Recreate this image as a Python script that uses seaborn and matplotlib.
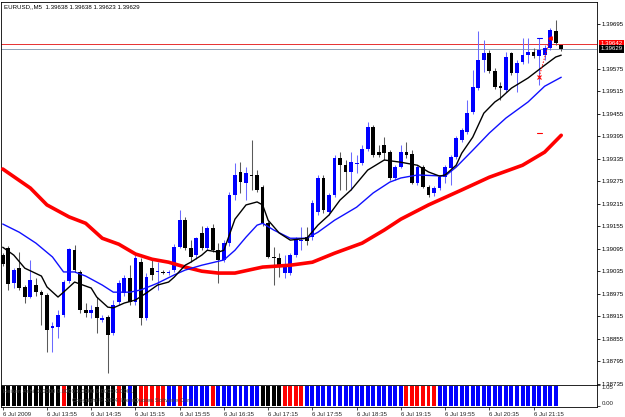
import numpy as np
import pandas as pd
import matplotlib
matplotlib.use('Agg')
import matplotlib.pyplot as plt
import matplotlib.transforms as mtrans
import seaborn as sns

# EURUSD M5, 6 Jul 2009, bars from 13:15 to 21:40
opens = [1.39078, 1.39097, 1.39003, 1.39043, 1.38993, 1.38966, 1.38998, 1.38979, 1.38971, 1.38883,
         1.38886, 1.38918, 1.39009, 1.39091, 1.39033, 1.38931, 1.38923, 1.38939, 1.38904, 1.38912,
         1.38870, 1.38953, 1.38977, 1.39017, 1.38953, 1.39059, 1.38910, 1.39043, 1.39033, 1.39033,
         1.39030, 1.39038, 1.39099, 1.39171, 1.39097, 1.39078, 1.39137, 1.39097, 1.39150, 1.39091,
         1.39065, 1.39110, 1.39238, 1.39300, 1.39270, 1.39292, 1.39292, 1.39260, 1.39163, 1.39073,
         1.39070, 1.39030, 1.39030, 1.39078, 1.39115, 1.39126, 1.39126, 1.39193, 1.39284, 1.39193,
         1.39238, 1.39337, 1.39318, 1.39300, 1.39321, 1.39324, 1.39361, 1.39420, 1.39353, 1.39372,
         1.39353, 1.39284, 1.39313, 1.39353, 1.39348, 1.39270, 1.39313, 1.39260, 1.39244, 1.39257,
         1.39286, 1.39310, 1.39340, 1.39385, 1.39406, 1.39460, 1.39524, 1.39599, 1.39617, 1.39569,
         1.39529, 1.39519, 1.39617, 1.39564, 1.39593, 1.39612, 1.39620, 1.39609, 1.39612, 1.39631,
         1.39676, 1.39638]
highs = [1.39083, 1.39102, 1.39043, 1.39086, 1.38998, 1.39065, 1.39017, 1.38985, 1.38977, 1.38899,
         1.38931, 1.39011, 1.39097, 1.39105, 1.39038, 1.38950, 1.38945, 1.38966, 1.38918, 1.38918,
         1.38958, 1.39011, 1.39025, 1.39051, 1.39078, 1.39070, 1.39030, 1.39070, 1.39059, 1.39038,
         1.39038, 1.39107, 1.39198, 1.39180, 1.39118, 1.39126, 1.39155, 1.39155, 1.39161, 1.39110,
         1.39118, 1.39246, 1.39324, 1.39326, 1.39313, 1.39385, 1.39305, 1.39265, 1.39169, 1.39099,
         1.39083, 1.39078, 1.39083, 1.39126, 1.39153, 1.39153, 1.39225, 1.39292, 1.39292, 1.39244,
         1.39345, 1.39353, 1.39332, 1.39353, 1.39345, 1.39372, 1.39433, 1.39425, 1.39372, 1.39393,
         1.39358, 1.39318, 1.39372, 1.39380, 1.39358, 1.39318, 1.39318, 1.39265, 1.39262, 1.39292,
         1.39318, 1.39345, 1.39396, 1.39417, 1.39492, 1.39572, 1.39676, 1.39652, 1.39625, 1.39577,
         1.39540, 1.39620, 1.39620, 1.39599, 1.39657, 1.39657, 1.39631, 1.39657, 1.39639, 1.39684,
         1.39706, 1.39638]
lows = [1.39049, 1.38985, 1.38990, 1.38985, 1.38950, 1.38963, 1.38969, 1.38891, 1.38819, 1.38819,
        1.38856, 1.38912, 1.39003, 1.39033, 1.38923, 1.38912, 1.38910, 1.38870, 1.38899, 1.38763,
        1.38864, 1.38945, 1.38969, 1.38945, 1.38945, 1.38891, 1.38904, 1.39011, 1.38985, 1.39027,
        1.39025, 1.39033, 1.39097, 1.39091, 1.39059, 1.39067, 1.39091, 1.39091, 1.39086, 1.39003,
        1.39059, 1.39102, 1.39225, 1.39244, 1.39225, 1.39252, 1.39246, 1.39155, 1.39070, 1.38998,
        1.39019, 1.39017, 1.39025, 1.39073, 1.39091, 1.39105, 1.39118, 1.39185, 1.39190, 1.39185,
        1.39233, 1.39252, 1.39252, 1.39252, 1.39297, 1.39318, 1.39356, 1.39340, 1.39340, 1.39332,
        1.39278, 1.39278, 1.39310, 1.39337, 1.39268, 1.39265, 1.39257, 1.39233, 1.39236, 1.39252,
        1.39270, 1.39265, 1.39334, 1.39380, 1.39401, 1.39455, 1.39519, 1.39567, 1.39564, 1.39521,
        1.39492, 1.39513, 1.39559, 1.39513, 1.39588, 1.39591, 1.39604, 1.39532, 1.39599, 1.39625,
        1.39639, 1.39623]
closes = [1.39054, 1.39001, 1.39038, 1.38990, 1.38966, 1.39011, 1.38979, 1.38971, 1.38878, 1.38889,
          1.38918, 1.39006, 1.39094, 1.39038, 1.38931, 1.38923, 1.38931, 1.38910, 1.38910, 1.38864,
          1.38945, 1.39003, 1.39017, 1.38953, 1.39070, 1.38910, 1.39019, 1.39025, 1.39035, 1.39030,
          1.39033, 1.39099, 1.39171, 1.39097, 1.39073, 1.39123, 1.39097, 1.39150, 1.39091, 1.39065,
          1.39110, 1.39238, 1.39292, 1.39273, 1.39297, 1.39289, 1.39252, 1.39163, 1.39073, 1.39070,
          1.39051, 1.39051, 1.39078, 1.39118, 1.39118, 1.39115, 1.39217, 1.39284, 1.39198, 1.39238,
          1.39337, 1.39318, 1.39300, 1.39326, 1.39324, 1.39361, 1.39420, 1.39345, 1.39345, 1.39350,
          1.39284, 1.39313, 1.39353, 1.39345, 1.39270, 1.39313, 1.39260, 1.39238, 1.39257, 1.39286,
          1.39313, 1.39340, 1.39390, 1.39412, 1.39457, 1.39527, 1.39599, 1.39617, 1.39569, 1.39527,
          1.39524, 1.39607, 1.39564, 1.39591, 1.39612, 1.39620, 1.39609, 1.39625, 1.39631, 1.39679,
          1.39644, 1.39629]

# moving averages (bar index, price)
slow_ma_bars = [0, 5, 8, 12, 15, 18, 21, 24, 27, 30, 33, 36, 39, 42, 47, 52, 56, 60, 65, 69,
                72, 77, 83, 88, 94, 98, 101]
slow_ma = [1.39308, 1.39257, 1.39212, 1.39180, 1.39163, 1.39123, 1.39107, 1.39081, 1.39067, 1.39059,
           1.39046, 1.39035, 1.39030, 1.39030, 1.39046, 1.39051, 1.39059, 1.39083, 1.39110, 1.39145,
           1.39174, 1.39212, 1.39252, 1.39286, 1.39318, 1.39353, 1.39398]
mid_ma_bars = [0, 3, 6, 9, 11, 13, 15, 18, 20, 23, 25, 28, 31, 33, 36, 40, 42, 44, 46, 47,
               49, 52, 55, 57, 60, 64, 67, 70, 72, 75, 80, 82, 85, 88, 91, 95, 98, 101]
mid_ma = [1.39161, 1.39139, 1.39110, 1.39073, 1.39033, 1.39033, 1.39022, 1.38998, 1.38979, 1.38979,
          1.38985, 1.39003, 1.39025, 1.39038, 1.39051, 1.39065, 1.39091, 1.39126, 1.39158, 1.39163,
          1.39145, 1.39123, 1.39123, 1.39139, 1.39171, 1.39206, 1.39244, 1.39273, 1.39284, 1.39292,
          1.39289, 1.39313, 1.39358, 1.39404, 1.39444, 1.39487, 1.39529, 1.39553]
fast_ma_bars = [0, 2, 4, 7, 8, 10, 11, 13, 16, 17, 19, 20, 22, 24, 26, 28, 30, 31, 33, 34,
                36, 37, 39, 40, 42, 44, 46, 47, 48, 50, 52, 55, 57, 59, 61, 63, 66, 69, 72, 75,
                77, 79, 80, 82, 83, 85, 87, 89, 90, 92, 95, 98, 100, 101]
fast_ma = [1.39099, 1.39078, 1.39043, 1.39022, 1.38993, 1.38966, 1.38979, 1.39006, 1.38990, 1.38966,
           1.38939, 1.38937, 1.38950, 1.38958, 1.38977, 1.38998, 1.39006, 1.39019, 1.39051, 1.39059,
           1.39078, 1.39091, 1.39086, 1.39091, 1.39174, 1.39212, 1.39220, 1.39212, 1.39171, 1.39137,
           1.39118, 1.39123, 1.39158, 1.39185, 1.39225, 1.39252, 1.39305, 1.39332, 1.39326, 1.39318,
           1.39300, 1.39289, 1.39292, 1.39318, 1.39350, 1.39393, 1.39457, 1.39487, 1.39497, 1.39524,
           1.39551, 1.39585, 1.39607, 1.39612]

# lower window histogram colour per bar: k = black, r = red, b = blue
signal = ('kkkkkkkkkkkr' 'kkkkkkkkk' 'rkbk' 'rrrrr' 'bb' 'r' 'bbbbb' 'r' 'bbbbbbbb'
          'kkkk' 'rrrr' 'bbbbbbbbbbbbbbbbbb' 'rrrrrr' 'bbbbbbbbbbbbbbbbbbbbbb')
hist_value = 1.0

ask_price = 1.39642
bid_price = 1.39629
trade_bars = [97, 99]
trade_prices = [1.39554, 1.39657]
order_marks = [(97, 1.39657, '#0000ff'), (97, 1.39404, '#ff0000')]

price_ticks = [1.38735, 1.38795, 1.38855, 1.38915, 1.38975, 1.39035, 1.39095, 1.39155, 1.39215,
               1.39275, 1.39335, 1.39395, 1.39455, 1.39515, 1.39575, 1.39695]
time_bars = [0, 8, 16, 24, 32, 40, 48, 56, 64, 72, 80, 88, 96]
time_labels = ['6 Jul 2009', '6 Jul 13:55', '6 Jul 14:35', '6 Jul 15:15', '6 Jul 15:55',
               '6 Jul 16:35', '6 Jul 17:15', '6 Jul 17:55', '6 Jul 18:35', '6 Jul 19:15',
               '6 Jul 19:55', '6 Jul 20:35', '6 Jul 21:15']
header = 'EURUSD,,M5  1.39638 1.39638 1.39623 1.39629'

sns.set_theme(style='white')
plt.rcParams['font.family'] = ['Liberation Sans', 'DejaVu Sans']
fs = 4.4

df = pd.DataFrame({'open': opens, 'high': highs, 'low': lows, 'close': closes})
df['bar'] = np.arange(len(df))
up = df['close'] >= df['open']

fig = plt.figure(figsize=(6.25, 4.17), dpi=100)
fig.patch.set_facecolor('white')
ax = fig.add_axes([0.0016, 0.0767, 0.9536, 0.9185])
axi = fig.add_axes([0.0016, 0.024, 0.9536, 0.0527], sharex=ax)

# candles
ax.vlines(df['bar'], df['low'], df['high'], colors=np.where(up, '#6a6aff', '#5a5a5a'),
          lw=0.75, zorder=2)
body_lo = df[['open', 'close']].min(axis=1)
body_h = (df['close'] - df['open']).abs().clip(lower=0.00003)
ax.bar(df['bar'], body_h, bottom=body_lo, width=0.68,
       color=np.where(up, '#0000ff', '#000000'), linewidth=0, zorder=3)

# moving averages
sns.lineplot(x=slow_ma_bars, y=slow_ma, ax=ax, color='#ff0000', lw=2.6, zorder=4)
sns.lineplot(x=mid_ma_bars, y=mid_ma, ax=ax, color='#1010ff', lw=1.0, zorder=4)
sns.lineplot(x=fast_ma_bars, y=fast_ma, ax=ax, color='#000000', lw=1.0, zorder=5)

# bid / ask lines
ax.axhline(ask_price, color='#e83030', lw=0.7, zorder=1)
ax.axhline(bid_price, color='#8ea2b6', lw=0.7, zorder=1)

# trade arrows
ax.plot(trade_bars, trade_prices, color='#ff0000', lw=0.7, ls=(0, (1.5, 1.5)), zorder=6)
ax.plot(trade_bars[0], trade_prices[0], marker='x', color='#ff0000', ms=2.5, mew=0.8, zorder=6)
ax.plot(trade_bars[1], trade_prices[1], marker='<', color='#ff0000', ms=2.5, zorder=6)
for b, p, c in order_marks:
    ax.plot([b - 0.45, b + 0.45], [p, p], color=c, lw=0.8, zorder=6)

ax.set_xlim(-0.31, 107.47)
ax.set_ylim(1.38731, 1.39754)
ax.yaxis.tick_right()
ax.set_yticks(price_ticks)
ax.set_yticklabels([f'{v:.5f}' for v in price_ticks])
ax.tick_params(axis='y', length=2, width=0.6, pad=1.5, labelsize=fs, colors='black',
               direction='out', right=True, left=False)
ax.tick_params(axis='x', bottom=False, labelbottom=False)
ax.set_xlabel('')
ax.set_ylabel('')
for s in ax.spines.values():
    s.set_color('#000000')
    s.set_linewidth(0.6)

# price boxes on the scale
tr = mtrans.blended_transform_factory(ax.transAxes, ax.transData)
ax.text(1.006, ask_price, f'{ask_price:.5f}', transform=tr, fontsize=fs, color='white',
        va='center', ha='left', bbox=dict(boxstyle='square,pad=0.25', fc='#ff0000', ec='none'),
        zorder=7, clip_on=False)
ax.text(1.006, bid_price, f'{bid_price:.5f}', transform=tr, fontsize=fs, color='white',
        va='center', ha='left', bbox=dict(boxstyle='square,pad=0.25', fc='#000000', ec='none'),
        zorder=8, clip_on=False)

fig.text(4 / 625, 1 - 7 / 417, header, fontsize=fs, va='center', ha='left', color='black')

# lower indicator window
cmap = {'k': '#000000', 'r': '#ff0000', 'b': '#0000ff'}
axi.bar(np.arange(len(signal)), hist_value, width=0.72,
        color=[cmap[c] for c in signal], linewidth=0, zorder=2)
axi.set_ylim(-0.05, 1.05)
axi.yaxis.tick_right()
axi.set_yticks([1.05, 0.0])
axi.set_yticklabels(['1.05', '0.00'])
axi.tick_params(axis='y', length=2, width=0.6, pad=1.5, labelsize=fs, direction='out',
                right=True, left=False)
ylabs = axi.get_yticklabels()
ylabs[0].set_va('top')
ylabs[1].set_va('bottom')
axi.set_xticks(time_bars)
axi.set_xticklabels(time_labels)
axi.tick_params(axis='x', length=2.5, width=0.6, pad=0.8, labelsize=fs, direction='out',
                bottom=True)
for lab in axi.get_xticklabels():
    lab.set_ha('left')
for s in axi.spines.values():
    s.set_color('#000000')
    s.set_linewidth(0.6)
axi.text(0.004, 0.70, 'Heiken Ashi  0.0000 0.0000 0.0000 0.0000 0.0001', transform=axi.transAxes,
         fontsize=4.2, color='#404040', va='center', ha='left', zorder=5)
axi.text(0.322, 0.30, 'Copyright \u00a9 2004, MetaQuotes Software Corp', transform=axi.transAxes,
         fontsize=4.2, color='#404040', va='center', ha='right', zorder=5)

fig.savefig('out.png', dpi=100, facecolor='white')
